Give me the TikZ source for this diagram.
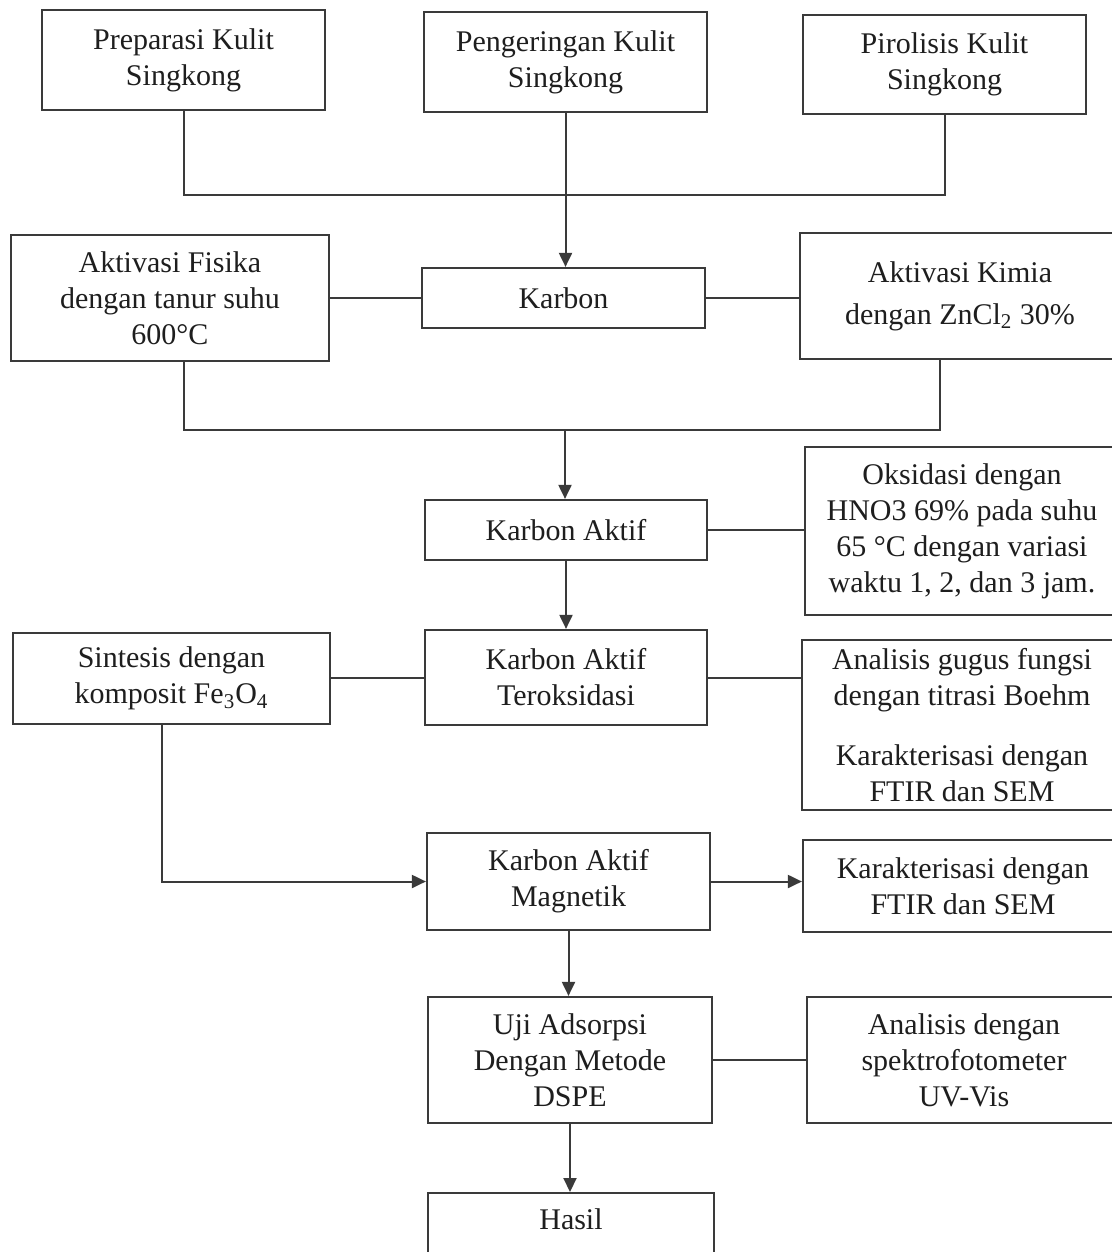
\documentclass[tikz,border=0pt]{standalone}
\usepackage{fontspec}
\setmainfont{Liberation Serif}
\usetikzlibrary{arrows.meta, positioning}
\definecolor{tepi}{HTML}{3A3A3A}
\definecolor{teks}{HTML}{1E1E1E}
\tikzset{
  kotak/.style={rectangle, draw=tepi, line width=1.1pt, fill=white, text=teks,
                align=center, font=\fontsize{15}{18}\selectfont, inner sep=2pt},
  garis/.style={line width=1pt, draw=tepi},
  panah/.style={garis, -{Triangle[length=7pt,width=6.5pt]}}
}

\begin{document}
\begin{tikzpicture}[x=0.5pt, y=-0.5pt]
  \useasboundingbox (0,0) rectangle (1112,1252);
  % baris atas
  \node (prep) [kotak, minimum width=141.5pt, minimum height=50pt] at (183.5,60) {Preparasi Kulit\\ Singkong};
  \node (peng) [kotak, minimum width=141.5pt, minimum height=50pt] at (565.5,62) {Pengeringan Kulit\\ Singkong};
  \node (piro) [kotak, minimum width=141.5pt, minimum height=49.5pt] at (944.5,64.5) {Pirolisis Kulit\\ Singkong};
  % karbon
  \node (fisika) [kotak, minimum width=159pt, minimum height=63pt] at (170,298) {Aktivasi Fisika\\ dengan tanur suhu\\ 600°C};
  \node (karbon) [kotak, minimum width=141.5pt, minimum height=30pt] at (563.5,298) {Karbon};
  \node (kimia) [kotak, minimum width=160pt, minimum height=63pt] at (960,296) {Aktivasi Kimia\\[3pt] dengan ZnCl\textsubscript{2} 30\%};
  % karbon aktif
  \node (ka) [kotak, minimum width=141pt, minimum height=30pt] at (566,530) {Karbon Aktif};
  \node (oks) [kotak, minimum width=157pt, minimum height=84pt] at (962,531) {Oksidasi dengan\\ HNO3 69\% pada suhu\\ 65 °C dengan variasi\\ waktu 1, 2, dan 3 jam.};
  \node (teroks) [kotak, minimum width=141pt, minimum height=47.5pt] at (566,677.5) {Karbon Aktif\\ Teroksidasi};
  \node (sintesis) [kotak, minimum width=158.5pt, minimum height=45.5pt] at (171.5,678.5) {Sintesis dengan\\ komposit Fe\textsubscript{3}O\textsubscript{4}};
  \node (analisis) [kotak, minimum width=160pt, minimum height=85pt] at (962,725) {Analisis gugus fungsi\\ dengan titrasi Boehm\\[12pt] Karakterisasi dengan\\ FTIR dan SEM};
  % karbon aktif magnetik
  \node (magnetik) [kotak, minimum width=141.5pt, minimum height=48.5pt] at (568.5,881.5) {Karbon Aktif\\ Magnetik};
  \node (karakter) [kotak, minimum width=160pt, minimum height=46pt] at (963,886) {Karakterisasi dengan\\ FTIR dan SEM};
  \node (uji) [kotak, minimum width=142pt, minimum height=63pt] at (570,1060) {Uji Adsorpsi\\ Dengan Metode\\ DSPE};
  \node (spektro) [kotak, minimum width=157pt, minimum height=63pt] at (964,1060) {Analisis dengan\\ spektrofotometer\\ UV-Vis};
  \node (hasil) [kotak, anchor=north, minimum width=143pt, text height=16pt, text depth=40pt] at (571,1192) {Hasil};

  \coordinate (gabung1) at (565.5,195);
  \coordinate (gabung2) at (565,430);

  \draw [garis] (prep.south) |- (gabung1) -| (piro.south);
  \draw [panah] (peng.south) -- (peng.south |- karbon.north);
  \draw [garis] (karbon.west) -- (fisika.east);
  \draw [garis] (karbon.east) -- (karbon.east -| kimia.west);
  \draw [garis] (fisika.south -| prep.south) |- (gabung2) -| ([xshift=-10pt]kimia.south);
  \draw [panah] (gabung2) -- (gabung2 |- ka.north);
  \draw [garis] (ka.east) -- (ka.east -| oks.west);
  \draw [panah] (ka.south) -- (teroks.north);
  \draw [garis] (teroks.west) -- (teroks.west -| sintesis.east);
  \draw [garis] (teroks.east) -- (teroks.east -| analisis.west);
  \draw [panah] ([xshift=-5pt]sintesis.south) |- (magnetik.west);
  \draw [panah] (magnetik.east) -- (magnetik.east -| karakter.west);
  \draw [panah] (magnetik.south) -- (magnetik.south |- uji.north);
  \draw [garis] (uji.east) -- (spektro.west);
  \draw [panah] (uji.south) -- (uji.south |- hasil.north);
\end{tikzpicture}
\end{document}
